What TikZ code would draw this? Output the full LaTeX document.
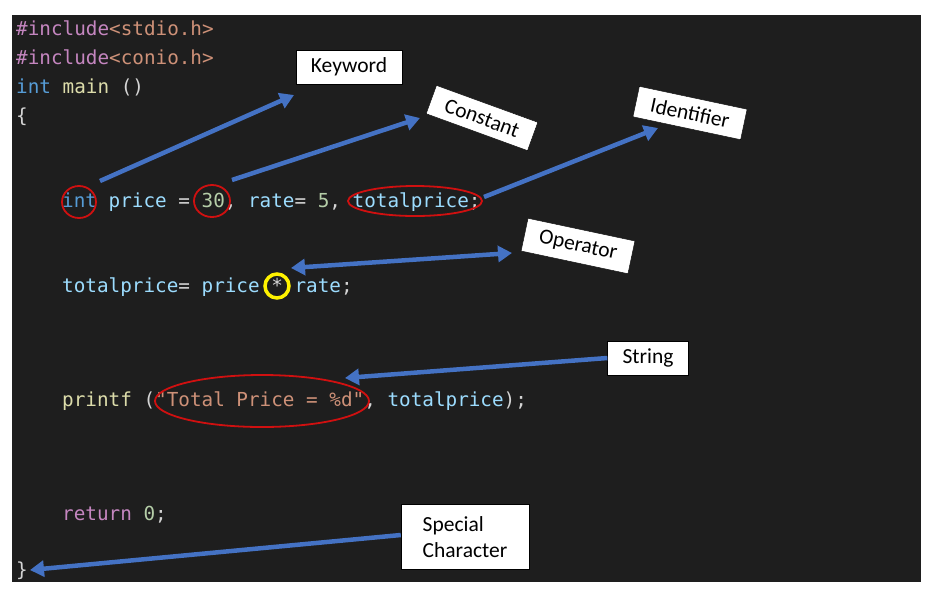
\documentclass[tikz,border=0pt]{standalone}
\usepackage{fontspec}
\setmonofont{DejaVu Sans Mono}
\setmainfont{Carlito}
\usetikzlibrary{arrows.meta}
\definecolor{bg}{HTML}{1E1E1E}
\definecolor{kw}{HTML}{569CD6}
\definecolor{pp}{HTML}{C586C0}
\definecolor{st}{HTML}{CE9178}
\definecolor{fn}{HTML}{DCDCAA}
\definecolor{vr}{HTML}{9CDCFE}
\definecolor{nm}{HTML}{B5CEA8}
\definecolor{tx}{HTML}{D4D4D4}
\definecolor{ar}{HTML}{4472C4}
\definecolor{rd}{HTML}{D01010}
\begin{document}
\begin{tikzpicture}[x=1pt,y=-1pt,
  code/.style={anchor=base west,inner sep=0,font=\ttfamily\fontsize{19.3}{21}\selectfont,text=tx},
  lbl/.style={draw=black,fill=white,font=\fontsize{21.5}{26}\selectfont,inner xsep=15pt,inner ysep=8pt,align=left},
  arw/.style={draw=ar,line width=4.5pt,-{Triangle[length=14pt,width=16pt]}},
  ring/.style={draw=rd,line width=1.8pt}]
\useasboundingbox (0,0) rectangle (928,598);
\fill[bg] (12,15) rectangle (921,582);
\node[code] (l1) at (16,35) {\textcolor{pp}{\#include}\textcolor{st}{<stdio.h>}};
\node[code] (l2) at (16,64) {\textcolor{pp}{\#include}\textcolor{st}{<conio.h>}};
\node[code] (l3) at (16,93) {\textcolor{kw}{int} \textcolor{fn}{main} ()};
\node[code] (l4) at (16,122) {\{};
\node[code] (l5) at (62,207) {\textcolor{kw}{int} \textcolor{vr}{price} = \textcolor{nm}{30}, \textcolor{vr}{rate}= \textcolor{nm}{5}, \textcolor{vr}{totalprice};};
\node[code] (l6) at (62,292) {\textcolor{vr}{totalprice}= \textcolor{vr}{price} * \textcolor{vr}{rate};};
\node[code] (l7) at (62,406) {\textcolor{fn}{printf} (\textcolor{st}{"Total Price = \%d"}, \textcolor{vr}{totalprice});};
\node[code] (l8) at (62,520) {\textcolor{pp}{return} \textcolor{nm}{0};};
\node[code] (l9) at (16,576) {\}};
% rings
\draw[ring] (79,202) ellipse [x radius=17,y radius=16];
\draw[ring] (212,201) ellipse [x radius=18,y radius=16];
\draw[ring] (415,201) ellipse [x radius=67,y radius=15];
\draw[ring] (262,401) ellipse [x radius=107,y radius=26];
\draw[draw=yellow,line width=3.5pt] (277,286) circle (12);
% labels
\node[lbl] (kwd) at (349,67) {Keyword};
\node[lbl,rotate=-20] (con) at (482,118) {Constant};
\node[lbl,rotate=-12] (idf) at (690,113) {Identifier};
\node[lbl,rotate=-12] (opr) at (578,246) {Operator};
\node[lbl] (str) at (648,358) {String};
\node[lbl,inner xsep=14pt,inner ysep=12pt,minimum width=128pt] (spc) at (465,537) {Special\\Character};
% arrow anchors
\coordinate (a1) at (100,181);
\coordinate (a1e) at (294,95);
\coordinate (a2) at (232,180);
\coordinate (a2e) at (420,118);
\coordinate (a3) at (484,197);
\coordinate (a3e) at (658,128);
\coordinate (a4s) at (291,268);
\coordinate (a4e) at (512,253);
\coordinate (a5e) at (345,378);
\coordinate (a6e) at (30,570);
\draw[arw] (a1) -- (a1e);
\draw[arw] (a2) -- (a2e);
\draw[arw] (a3) -- (a3e);
\draw[arw,{Triangle[length=14pt,width=16pt]}-{Triangle[length=14pt,width=16pt]}] (a4s) -- (a4e);
\draw[arw] (str.west) -- (a5e);
\draw[arw] (spc.west) ++(0,-2) -- (a6e);
\end{tikzpicture}
\end{document}
